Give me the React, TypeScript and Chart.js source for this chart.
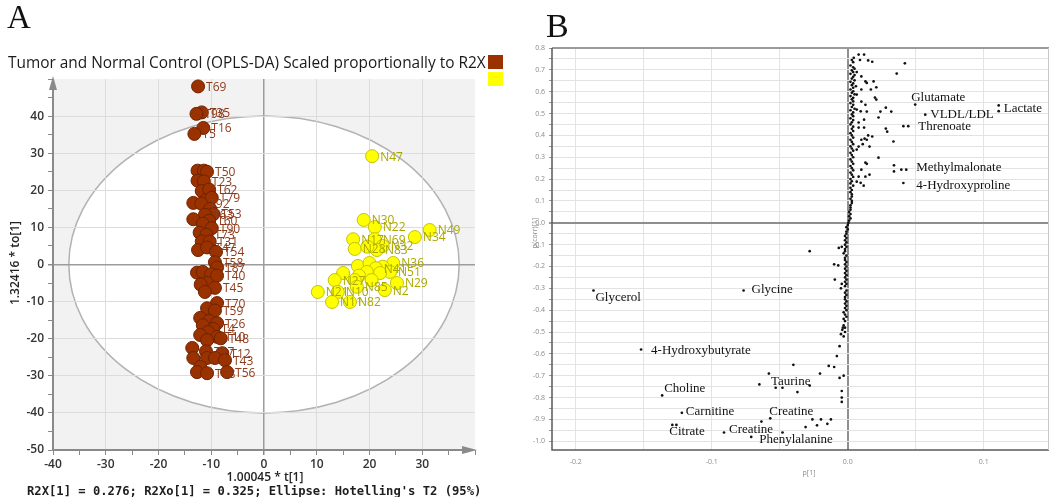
import React, { useEffect, useRef } from 'react';
import { Chart, registerables } from 'chart.js';

Chart.register(...registerables);

// ---------------- Panel A: OPLS-DA score plot ----------------
const titleA = 'Tumor and Normal Control (OPLS-DA) Scaled proportionally to R2X';
const footerA = "R2X[1] = 0.276; R2Xo[1] = 0.325; Ellipse: Hotelling's T2 (95%)";
const xTitleA = '1.00045 * t[1]';
const yTitleA = '1.32416 * to[1]';

const tumorLabels = [
  'T69', 'T35', 'T98', 'T16', 'T5', '', '', 'T50', '', 'T23', '', 'T62', '', 'T79', '', 'T92',
  '', 'T53', 'T63', '', 'T60', '', 'T90', '', 'T73', '', 'T31', '', 'T47', 'T54', 'T58', '',
  '', 'T87', '', 'T40', '', '', 'T45', '', 'T70', '', 'T59', '', '', 'T26', '', 'T4',
  '', '', 'T10', 'T48', '', '', 'T17', 'T12', '', '', '', 'T43', '', '', 'T78', 'T56',
];
const tumorX = [
  -12.5, -11.8, -12.8, -11.5, -13.2, -12.6, -11.4, -10.8, -12.6, -11.4, -11.8, -10.4, -11.0, -9.9, -13.4, -11.9,
  -10.2, -9.6, -11.2, -13.4, -10.4, -11.6, -9.9, -12.2, -10.9, -11.8, -10.3, -12.5, -10.8, -9.1, -9.3, -12.7,
  -11.6, -8.9, -10.0, -8.9, -10.8, -12.0, -9.3, -11.2, -8.9, -10.8, -9.3, -12.1, -10.4, -8.9, -11.6, -9.6,
  -10.6, -12.1, -8.9, -8.2, -10.8, -13.6, -11.0, -7.9, -13.4, -10.8, -9.3, -7.4, -12.1, -12.7, -10.8, -7.0,
];
const tumorY = [
  48.0, 41.0, 40.6, 36.8, 35.2, 25.3, 25.3, 25.0, 22.6, 22.4, 19.8, 20.2, 17.3, 18.0, 16.6, 16.4,
  15.0, 13.6, 13.4, 12.2, 11.8, 11.0, 9.8, 8.6, 8.0, 6.2, 6.2, 3.9, 4.6, 3.4, 0.6, -2.2,
  -2.0, -0.8, -2.6, -3.0, -5.0, -5.4, -6.3, -7.4, -10.4, -11.8, -12.4, -14.4, -15.2, -15.8, -16.4, -17.4,
  -18.2, -19.0, -19.5, -19.9, -20.4, -22.5, -23.4, -23.9, -25.2, -25.2, -25.2, -25.8, -27.6, -29.0, -29.3, -29.0,
];

const normalLabels = [
  'N47', 'N30', 'N22', 'N49', 'N34', 'N17', 'N69', 'N32', 'N28', 'N83', '', '', '', 'N36', '', 'N41',
  'N51', '', '', '', '', 'N27', '', '', 'N29', 'N21', 'N10', 'N85', 'N2', 'N11', 'N82',
];
const normalX = [
  20.5, 18.9, 21.0, 31.4, 28.6, 16.9, 21.0, 22.5, 17.2, 21.4, 19.6, 17.8, 20.0, 24.5, 22.5, 21.2,
  23.9, 15.0, 19.5, 22.0, 18.0, 13.4, 17.2, 20.4, 25.2, 10.2, 14.0, 17.6, 22.9, 12.9, 16.3,
];
const normalY = [
  29.2, 12.0, 10.1, 9.3, 7.4, 6.8, 6.8, 5.0, 4.2, 3.9, 4.8, -0.4, 0.4, 0.4, -0.6, -1.0,
  -2.0, -2.3, -2.0, -2.3, -3.0, -4.2, -4.2, -4.2, -5.0, -7.4, -7.4, -6.0, -6.9, -10.1, -10.1,
];

// Hotelling's T2 (95%) ellipse semi-axes in score units
const ellipseT = 37;
const ellipseTo = 40;

// ---------------- Panel B: S-plot ----------------
// [p[1], p(corr)[1]]
const splotPoints: [number, number][] = [
  // main band around p = 0
  [0.003, 0.745], [0.004, 0.735], [0.002, 0.72], [0.004, 0.712], [0.005, 0.705], [0.003, 0.698], [0.004, 0.69],
  [0.002, 0.682], [0.005, 0.676], [0.004, 0.668], [0.003, 0.66], [0.005, 0.652], [0.002, 0.645], [0.004, 0.638],
  [0.003, 0.63], [0.006, 0.625], [0.004, 0.618], [0.002, 0.61], [0.004, 0.602], [0.003, 0.595], [0.005, 0.588],
  [0.002, 0.58], [0.004, 0.572], [0.003, 0.565], [0.004, 0.556], [0.002, 0.548], [0.004, 0.54], [0.003, 0.53],
  [0.005, 0.522], [0.002, 0.515], [0.004, 0.505], [0.003, 0.496], [0.004, 0.488], [0.002, 0.478], [0.004, 0.47],
  [0.003, 0.46], [0.002, 0.45], [0.004, 0.44], [0.003, 0.43], [0.004, 0.42], [0.002, 0.41], [0.003, 0.4],
  [0.004, 0.39], [0.002, 0.38], [0.003, 0.37], [0.004, 0.36], [0.002, 0.35], [0.003, 0.34], [0.004, 0.33],
  [0.002, 0.32], [0.003, 0.31], [0.004, 0.3], [0.002, 0.29], [0.003, 0.28], [0.004, 0.27], [0.002, 0.26],
  [0.003, 0.25], [0.004, 0.24], [0.002, 0.23], [0.003, 0.22], [0.004, 0.21], [0.002, 0.2], [0.003, 0.19],
  [0.002, 0.18], [0.004, 0.17], [0.002, 0.16], [0.003, 0.15], [0.002, 0.14], [0.003, 0.13], [0.003, 0.12],
  [0.002, 0.11], [0.003, 0.1], [0.003, 0.09], [0.002, 0.08], [0.002, 0.07], [0.002, 0.06], [0.001, 0.05],
  [0.002, 0.04], [0.001, 0.03], [0.002, 0.02], [0.001, 0.01], [0.0005, 0.0], [0.0, -0.01], [-0.001, -0.02],
  [0.0, -0.03], [-0.001, -0.04], [-0.001, -0.05], [-0.002, -0.06], [-0.001, -0.07], [-0.002, -0.08],
  [-0.001, -0.09], [-0.002, -0.1], [-0.001, -0.11], [-0.002, -0.12], [-0.002, -0.13], [-0.003, -0.14],
  [-0.001, -0.15], [-0.002, -0.16], [-0.002, -0.17], [-0.001, -0.18], [-0.002, -0.19], [-0.001, -0.2],
  [-0.002, -0.21], [-0.001, -0.22], [-0.002, -0.23], [-0.001, -0.24], [-0.002, -0.25], [-0.001, -0.26],
  [-0.002, -0.27], [-0.001, -0.28], [-0.002, -0.29], [-0.001, -0.31], [-0.002, -0.32], [-0.001, -0.33],
  [-0.002, -0.34], [-0.001, -0.36], [-0.002, -0.37], [-0.001, -0.38], [-0.002, -0.39], [-0.001, -0.4],
  [-0.002, -0.42], [-0.001, -0.43], [-0.003, -0.44], [-0.002, -0.45], [-0.003, -0.47], [-0.002, -0.48],
  [-0.004, -0.49], [-0.002, -0.5], [-0.003, -0.52],
  // positive side spread
  [0.008, 0.77], [0.012, 0.77], [0.0044, 0.755], [0.009, 0.745], [0.015, 0.743], [0.018, 0.737], [0.042, 0.73],
  [0.036, 0.683], [0.0066, 0.69], [0.01, 0.67], [0.013, 0.647], [0.014, 0.64], [0.019, 0.647], [0.021, 0.62],
  [0.01, 0.61], [0.017, 0.61], [0.0066, 0.587], [0.02, 0.573], [0.021, 0.564], [0.01, 0.555], [0.013, 0.54],
  [0.0066, 0.518], [0.0095, 0.51], [0.014, 0.509], [0.024, 0.509], [0.028, 0.527], [0.032, 0.509],
  [0.0226, 0.482], [0.012, 0.472], [0.008, 0.459], [0.008, 0.436], [0.012, 0.436], [0.028, 0.431],
  [0.029, 0.417], [0.01, 0.38], [0.0124, 0.385], [0.014, 0.38], [0.016, 0.349], [0.008, 0.349],
  [0.0066, 0.335], [0.0336, 0.372], [0.0226, 0.298], [0.014, 0.27], [0.01, 0.243], [0.013, 0.211],
  [0.008, 0.211], [0.0095, 0.183], [0.0117, 0.17], [0.0066, 0.188], [0.015, 0.4], [0.018, 0.395],
  [0.011, 0.36], [0.013, 0.275], [0.016, 0.22],
  [0.111, 0.537], [0.0409, 0.442], [0.034, 0.263], [0.034, 0.235], [0.0394, 0.243],
  // negative side spread
  [-0.028, -0.13], [-0.0044, -0.11], [-0.0066, -0.115], [-0.01, -0.19], [-0.007, -0.195], [-0.0095, -0.26],
  [-0.0044, -0.28], [-0.005, -0.3], [-0.002, -0.35], [-0.003, -0.41], [-0.0036, -0.48], [-0.005, -0.51],
  [-0.006, -0.565], [-0.008, -0.61], [-0.04, -0.65], [-0.014, -0.655], [-0.01, -0.66], [-0.0204, -0.69],
  [-0.065, -0.74], [-0.053, -0.755], [-0.048, -0.755], [-0.028, -0.745], [-0.037, -0.775],
  [-0.0044, -0.77], [-0.0044, -0.8], [-0.0044, -0.82], [-0.006, -0.71], [-0.003, -0.7], [-0.0635, -0.91],
  [-0.031, -0.935], [-0.026, -0.9], [-0.0197, -0.9], [-0.0226, -0.927], [-0.015, -0.92], [-0.0124, -0.9],
  [-0.048, -0.96], [-0.126, -0.925],
];

const metaboliteNames = [
  'Glutamate', 'VLDL/LDL', 'Lactate', 'Threnoate', 'Methylmalonate', '4-Hydroxyproline',
  'Glycerol', 'Glycine', '4-Hydroxybutyrate', 'Taurine', 'Choline', 'Carnitine',
  'Creatine', 'Citrate', 'Creatine', 'Phenylalanine',
];
const metaboliteP = [
  0.0496, 0.057, 0.111, 0.0445, 0.043, 0.0409,
  -0.187, -0.0766, -0.152, -0.058, -0.1365, -0.122,
  -0.057, -0.129, -0.091, -0.071,
];
const metaboliteCorr = [
  0.541, 0.495, 0.511, 0.442, 0.243, 0.182,
  -0.31, -0.31, -0.58, -0.69, -0.79, -0.87,
  -0.895, -0.925, -0.96, -0.98,
];
// label placement relative to the point, in pixels
const metaboliteLabelShift: [number, number][] = [
  [-4, -7], [5, 0], [5, -3], [10, 0], [10, -2], [13, 3],
  [2, 7], [8, -1], [10, 1], [2, 8], [2, -7], [4, -1],
  [-1, -7], [-3, 7], [5, -3], [8, 3],
];

const xTitleB = 'p[1]';
const yTitleB = 'p(corr)[1]';

const SANS = '"Open Sans", "DejaVu Sans", sans-serif';
const SERIF = '"Liberation Serif", "DejaVu Serif", serif';
const MONO = '"DejaVu Sans Mono", "Liberation Mono", monospace';

function fitFont(ctx: CanvasRenderingContext2D, text: string, weight: string, family: string, width: number) {
  ctx.font = `${weight} 20px ${family}`;
  const w = ctx.measureText(text).width;
  const size = (20 * width) / w;
  ctx.font = `${weight} ${size}px ${family}`;
}

const panelAPlugin = {
  id: 'panelADecor',
  beforeDraw(chart: any) {
    const { ctx, chartArea: a, scales } = chart;
    const x = scales.x;
    const y = scales.y;
    ctx.save();
    ctx.fillStyle = '#f2f2f2';
    ctx.fillRect(a.left, a.top, a.right - a.left, a.bottom - a.top);
    const cx = x.getPixelForValue(0);
    const cy = y.getPixelForValue(0);
    const rx = x.getPixelForValue(ellipseT) - cx;
    const ry = cy - y.getPixelForValue(ellipseTo);
    ctx.beginPath();
    ctx.ellipse(cx, cy, rx, ry, 0, 0, Math.PI * 2);
    ctx.fillStyle = '#ffffff';
    ctx.fill();
    ctx.strokeStyle = '#b2b2b2';
    ctx.lineWidth = 1.5;
    ctx.stroke();
    ctx.restore();
  },
  afterDatasetsDraw(chart: any) {
    const { ctx } = chart;
    ctx.save();
    ctx.font = `12px ${SANS}`;
    ctx.textBaseline = 'middle';
    ctx.textAlign = 'left';
    const groups = [
      { meta: chart.getDatasetMeta(0), labels: tumorLabels, color: '#8e3b1c' },
      { meta: chart.getDatasetMeta(1), labels: normalLabels, color: '#a9a800' },
    ];
    groups.forEach((g) => {
      ctx.fillStyle = g.color;
      g.meta.data.forEach((el: any, i: number) => {
        const t = g.labels[i];
        if (t) ctx.fillText(t, el.x + 8, el.y + 1);
      });
    });
    ctx.restore();
  },
  afterDraw(chart: any) {
    const { ctx, chartArea: a } = chart;
    ctx.save();
    // axis lines with arrow heads
    ctx.strokeStyle = '#8a8a8a';
    ctx.fillStyle = '#8a8a8a';
    ctx.lineWidth = 2;
    ctx.beginPath();
    ctx.moveTo(a.left, a.bottom);
    ctx.lineTo(a.left, a.top + 6);
    ctx.moveTo(a.left, a.bottom);
    ctx.lineTo(a.right - 6, a.bottom);
    ctx.stroke();
    ctx.beginPath();
    ctx.moveTo(a.left, a.top - 3);
    ctx.lineTo(a.left - 4, a.top + 11);
    ctx.lineTo(a.left + 4, a.top + 11);
    ctx.closePath();
    ctx.fill();
    ctx.beginPath();
    ctx.moveTo(a.right + 2, a.bottom);
    ctx.lineTo(a.right - 13, a.bottom - 4);
    ctx.lineTo(a.right - 13, a.bottom + 4);
    ctx.closePath();
    ctx.fill();

    // panel letter
    ctx.fillStyle = '#111';
    ctx.textAlign = 'left';
    ctx.textBaseline = 'alphabetic';
    ctx.font = `33px ${SERIF}`;
    ctx.fillText('A', 7, 28);

    // title
    fitFont(ctx, titleA, 'normal', SANS, 478);
    ctx.fillStyle = '#1a1a1a';
    ctx.fillText(titleA, 8, 68);

    // group colour keys
    ctx.fillStyle = '#9a3200';
    ctx.fillRect(488, 55, 15, 14);
    ctx.fillStyle = '#ffff00';
    ctx.fillRect(488, 72, 15, 14);

    // axis titles
    ctx.fillStyle = '#222';
    ctx.font = `600 12px ${SANS}`;
    ctx.textAlign = 'center';
    ctx.textBaseline = 'middle';
    ctx.fillText(xTitleA, (a.left + a.right) / 2 + 1, 478);
    ctx.save();
    ctx.translate(16, 263);
    ctx.rotate(-Math.PI / 2);
    ctx.fillText(yTitleA, 0, 0);
    ctx.restore();

    // footer
    ctx.textAlign = 'left';
    ctx.textBaseline = 'alphabetic';
    fitFont(ctx, footerA, 'bold', MONO, 455);
    ctx.fillStyle = '#1e1e1e';
    ctx.fillText(footerA, 27, 495);
    ctx.restore();
  },
};

const panelBPlugin = {
  id: 'panelBDecor',
  afterDatasetsDraw(chart: any) {
    const { ctx, scales } = chart;
    ctx.save();
    ctx.font = `13px ${SERIF}`;
    ctx.fillStyle = '#111';
    ctx.textAlign = 'left';
    ctx.textBaseline = 'middle';
    metaboliteNames.forEach((name, i) => {
      const px = scales.x.getPixelForValue(metaboliteP[i]);
      const py = scales.y.getPixelForValue(metaboliteCorr[i]);
      const [dx, dy] = metaboliteLabelShift[i];
      ctx.fillText(name, px + dx, py + dy);
    });
    ctx.restore();
  },
  afterDraw(chart: any) {
    const { ctx, chartArea: a } = chart;
    ctx.save();
    ctx.strokeStyle = '#9a9a9a';
    ctx.lineWidth = 2;
    ctx.beginPath();
    ctx.moveTo(a.left, a.top);
    ctx.lineTo(a.right, a.top);
    ctx.stroke();
    ctx.strokeStyle = '#5a5a5a';
    ctx.lineWidth = 1.5;
    ctx.beginPath();
    ctx.moveTo(a.left, a.top);
    ctx.lineTo(a.left, a.bottom);
    ctx.lineTo(a.right, a.bottom);
    ctx.stroke();
    ctx.strokeStyle = '#c8c8c8';
    ctx.lineWidth = 1;
    ctx.beginPath();
    ctx.moveTo(a.right - 0.5, a.top);
    ctx.lineTo(a.right - 0.5, a.bottom);
    ctx.stroke();

    ctx.fillStyle = '#111';
    ctx.textAlign = 'left';
    ctx.textBaseline = 'alphabetic';
    ctx.font = `34px ${SERIF}`;
    ctx.fillText('B', 16, 37);

    ctx.fillStyle = '#8a8a8a';
    ctx.font = `7px ${SANS}`;
    ctx.textAlign = 'center';
    ctx.textBaseline = 'middle';
    ctx.fillText(xTitleB, 279, 473);
    ctx.save();
    ctx.translate(5, 233);
    ctx.rotate(-Math.PI / 2);
    ctx.fillText(yTitleB, 0, 0);
    ctx.restore();
    ctx.restore();
  },
};

const isMultiple = (v: number, step: number) => Math.abs(v / step - Math.round(v / step)) < 1e-6;

export default function App() {
  const refA = useRef<HTMLCanvasElement>(null);
  const refB = useRef<HTMLCanvasElement>(null);

  useEffect(() => {
    const tickFontA = { family: SANS, size: 12, weight: 600 as any };
    const gridColorA = (max: number) => (c: any) => {
      const v = c.tick ? c.tick.value : NaN;
      if (v === 0) return '#9c9c9c';
      if (v === max) return 'rgba(0,0,0,0)';
      return isMultiple(v, 10) ? '#dcdcdc' : 'rgba(0,0,0,0)';
    };
    const chartA = new Chart(refA.current as HTMLCanvasElement, {
      type: 'scatter',
      data: {
        datasets: [
          {
            label: 'Tumor',
            data: tumorX.map((x, i) => ({ x, y: tumorY[i] })),
            backgroundColor: '#9a3200',
            borderColor: '#6f2200',
            borderWidth: 1,
            pointRadius: 6.5,
          },
          {
            label: 'Normal Control',
            data: normalX.map((x, i) => ({ x, y: normalY[i] })),
            backgroundColor: '#ffff00',
            borderColor: '#c4c400',
            borderWidth: 1,
            pointRadius: 6.5,
          },
        ],
      },
      options: {
        animation: false,
        responsive: false,
        events: [],
        layout: { padding: { left: 0, right: 55, top: 79, bottom: 0 } },
        plugins: { legend: { display: false }, tooltip: { enabled: false } },
        scales: {
          x: {
            type: 'linear',
            min: -40,
            max: 40,
            afterFit: (s: any) => {
              s.height = 47;
            },
            border: { display: false },
            grid: {
              color: gridColorA(40),
              lineWidth: (c: any) => (c.tick && c.tick.value === 0 ? 1.5 : 1),
              tickColor: '#8a8a8a',
              tickLength: 5,
            },
            ticks: {
              stepSize: 5,
              autoSkip: false,
              maxRotation: 0,
              includeBounds: false,
              padding: 2,
              color: '#333',
              font: tickFontA,
              callback: (v: any) => (isMultiple(v, 10) && v < 40 ? String(v) : ''),
            },
          },
          y: {
            type: 'linear',
            min: -50,
            max: 50,
            afterFit: (s: any) => {
              s.width = 53;
            },
            border: { display: false },
            grid: {
              color: gridColorA(50),
              lineWidth: (c: any) => (c.tick && c.tick.value === 0 ? 1.5 : 1),
              tickColor: '#8a8a8a',
              tickLength: 5,
            },
            ticks: {
              stepSize: 5,
              autoSkip: false,
              includeBounds: false,
              padding: 4,
              color: '#333',
              font: tickFontA,
              callback: (v: any) => (isMultiple(v, 10) && v < 50 ? String(v) : ''),
            },
          },
        },
      },
      plugins: [panelAPlugin],
    } as any);

    const gridColorB = (c: any) => {
      const v = c.tick ? c.tick.value : NaN;
      if (Math.abs(v) < 1e-9) return '#8e8e8e';
      return '#e3e3e3';
    };
    const tickFontB = { family: SANS, size: 7 };
    const chartB = new Chart(refB.current as HTMLCanvasElement, {
      type: 'scatter',
      data: {
        datasets: [
          {
            label: 'Variables',
            data: splotPoints.map(([x, y]) => ({ x, y })),
            backgroundColor: '#111',
            borderWidth: 0,
            pointRadius: 1.35,
          },
          {
            label: 'Metabolites',
            data: metaboliteP.map((x, i) => ({ x, y: metaboliteCorr[i] })),
            backgroundColor: '#111',
            borderWidth: 0,
            pointRadius: 1.35,
          },
        ],
      },
      options: {
        animation: false,
        responsive: false,
        events: [],
        layout: { padding: { left: 0, right: 3, top: 48, bottom: 0 } },
        plugins: { legend: { display: false }, tooltip: { enabled: false } },
        scales: {
          x: {
            type: 'linear',
            min: -0.2175,
            max: 0.148,
            afterFit: (s: any) => {
              s.height = 47;
            },
            border: { display: false },
            grid: {
              color: gridColorB,
              lineWidth: (c: any) => (c.tick && Math.abs(c.tick.value) < 1e-9 ? 2 : 1),
              drawTicks: false,
            },
            ticks: {
              stepSize: 0.05,
              autoSkip: false,
              maxRotation: 0,
              includeBounds: false,
              padding: 8,
              color: '#8a8a8a',
              font: tickFontB,
              callback: (v: any) => (isMultiple(v, 0.1) ? Number(v).toFixed(1) : ''),
            },
          },
          y: {
            type: 'linear',
            min: -1.04,
            max: 0.8,
            afterFit: (s: any) => {
              s.width = 22;
            },
            border: { display: false },
            grid: {
              color: gridColorB,
              lineWidth: (c: any) => (c.tick && Math.abs(c.tick.value) < 1e-9 ? 2 : 1),
              tickColor: '#9a9a9a',
              tickLength: 3,
            },
            ticks: {
              stepSize: 0.05,
              autoSkip: false,
              includeBounds: false,
              padding: 4,
              color: '#8a8a8a',
              font: tickFontB,
              callback: (v: any) => (isMultiple(v, 0.1) ? Number(v).toFixed(1) : ''),
            },
          },
        },
      },
      plugins: [panelBPlugin],
    } as any);

    return () => {
      chartA.destroy();
      chartB.destroy();
    };
  }, []);

  return (
    <div
      style={{
        position: 'absolute',
        left: 0,
        top: 0,
        width: 1053,
        height: 497,
        background: '#ffffff',
        overflow: 'hidden',
      }}
    >
      <canvas
        ref={refA}
        width={530}
        height={497}
        style={{ position: 'absolute', left: 0, top: 0, width: 530, height: 497 }}
      />
      <canvas
        ref={refB}
        width={523}
        height={497}
        style={{ position: 'absolute', left: 530, top: 0, width: 523, height: 497 }}
      />
    </div>
  );
}
